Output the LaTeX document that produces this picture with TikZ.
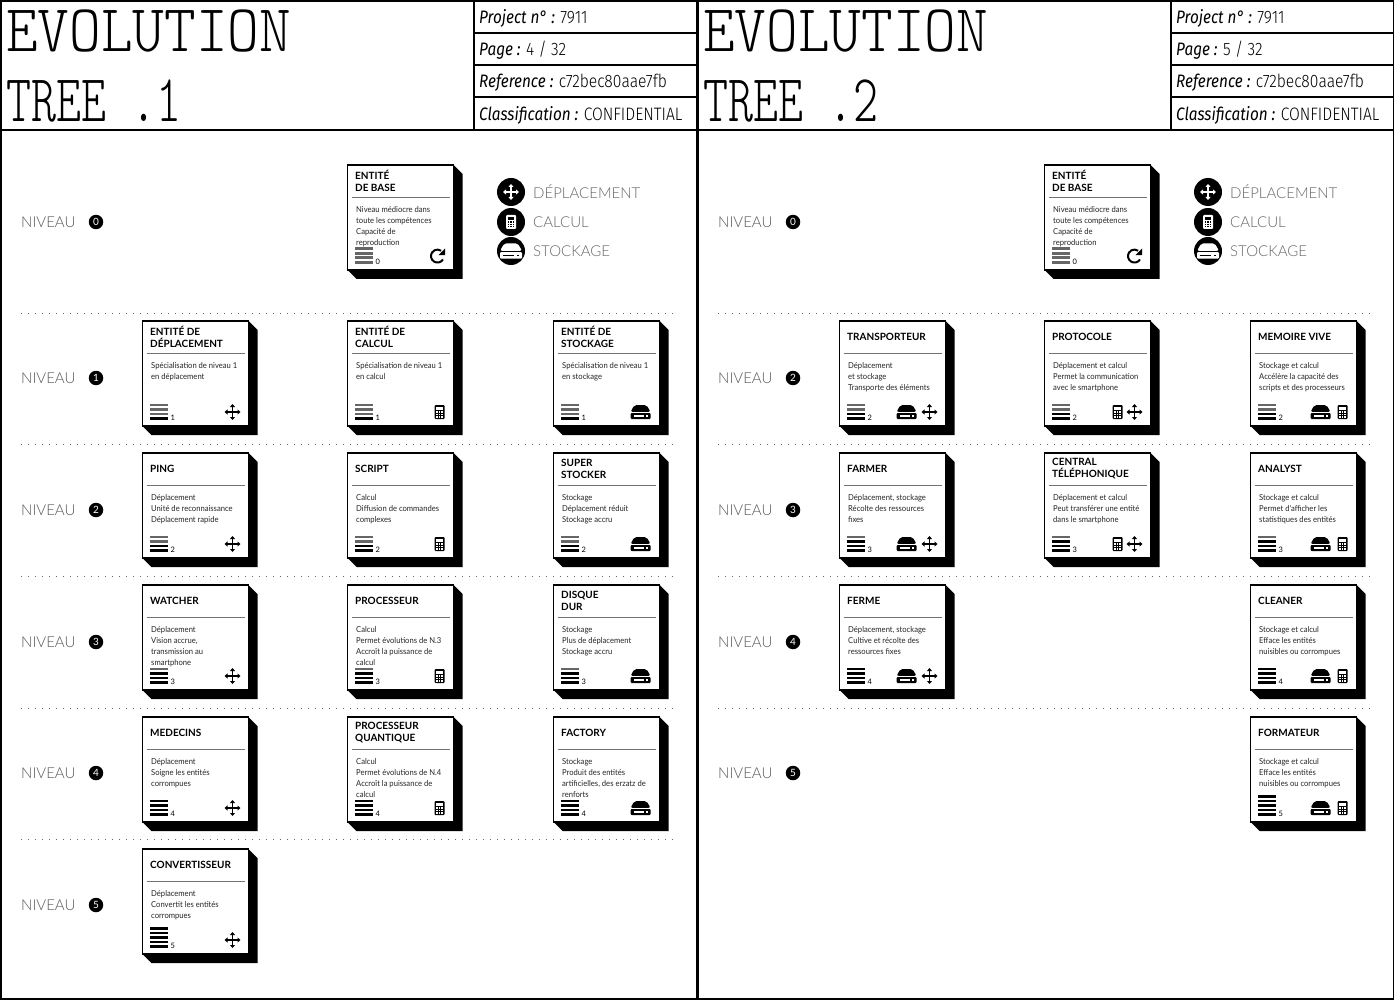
\documentclass[tikz,border=0pt]{standalone}
\usepackage{fontspec}
\setmainfont{Lato}
\newfontfamily\titlefont[FakeStretch=.9]{Latin Modern Mono Light}
\newfontfamily\headfont[FakeStretch=.85]{Fira Sans}
\newfontfamily\valfont[FakeStretch=.87]{Fira Sans Light}
\newfontfamily\lightfont{Lato Light}
\newfontfamily\bodyfont[FakeStretch=.93]{Lato}
\colorlet{iconfg}{black}
\colorlet{iconbg}{white}
\tikzset{
  movepic/.pic={
    \draw[iconfg,line width=1.2] (-6,0) -- (6,0) (0,-6) -- (0,6);
    \fill[iconfg] (-8,0) -- (-5,-2.6) -- (-5,2.6) -- cycle;
    \fill[iconfg] (8,0) -- (5,-2.6) -- (5,2.6) -- cycle;
    \fill[iconfg] (0,-8) -- (-2.6,-5) -- (2.6,-5) -- cycle;
    \fill[iconfg] (0,8) -- (-2.6,5) -- (2.6,5) -- cycle;
  },
  calcpic/.pic={
    \fill[iconfg,rounded corners=1] (-5,-7) rectangle (5,7);
    \fill[iconbg] (-3.4,-5.4) rectangle (3.4,-2.4);
    \foreach \i in {-2.6,0,2.6} \foreach \j in {0,2.4,4.8}
      \fill[iconbg] (\i-.8,\j-.7) rectangle (\i+.8,\j+.7);
  },
  hddpic/.pic={
    \fill[iconfg,rounded corners=2] (-10,-.2) -- (-6,-7) -- (6,-7) -- (10,-.2) -- cycle;
    \fill[iconfg,rounded corners=1] (-10,1) rectangle (10,7);
    \fill[iconbg] (-7,3.2) rectangle (3,4.6);
    \fill[iconbg] (5,3.2) rectangle (7.5,4.6);
  },
  reloadpic/.pic={
    \draw[iconfg,line width=2] (5.5,3.5) arc (32:305:6.5);
    \fill[iconfg] (7.5,-7.5) -- (7.5,-.8) -- (.8,-.8) -- cycle;
  }
}
% One card of the tree: name, x, y, title, text, level, icons
\newcommand{\cardbox}[7]{
  \begin{scope}[shift={(#2.5,#3)}]
    \fill (0,0) -- (106,0) -- (115,9) -- (115,114) -- (9,114) -- (0,105) -- cycle;
    \draw[cardframe] (0,0) rectangle (106,105);
    \node[cardtitle] (#1-title) at (7.5,16) {#4};
    \draw[cardrule] (4,32) -- (102,32);
    \node[cardtext] (#1-text) at (8.5,41.5) {#5};
    \pgfmathtruncatemacro{\nbars}{max(4,#6)}
    \foreach \i in {1,...,\nbars} {
      \ifnum\i>#6\def\barcol{black!60}\else\def\barcol{black}\fi
      \fill[\barcol] (7.5,{98.8-(\i-1)*4.5}) rectangle (25,{96-(\i-1)*4.5});
    }
    \node[cardlevel] (#1-level) at (28,99.5) {#6};
    #7
  \end{scope}
}
% The header of a sheet with its legend and base card: number, page
\newcommand{\sheethead}[2]{
  \draw[sheetline] (1,1) rectangle (697,999);
  \draw[sheetline] (1,130) -- (697,130);
  \draw[cellline] (474,1) -- (474,130);
  \draw[cellline] (474,33) -- (697,33) (474,65) -- (697,65) (474,97) -- (697,97);
  \node[sheettitle] (title-a) at (6,52) {EVOLUTION};
  \node[sheettitle] (title-b) at (6,122) {\scalebox{.79}[1]{TREE .#1}};
  \node[cellfield] (project) at (479,24) {\textit{Project n° :} {\valfont 7911}};
  \node[cellfield] (page) at (479,56) {\textit{Page :} {\valfont #2 / 32}};
  \node[cellfield] (reference) at (479,88) {\textit{Reference :} {\valfont c72bec80aae7fb}};
  \node[cellfield] (classification) at (479,121) {\textit{Classification :} {\valfont CONFIDENTIAL}};
  % Legend
  \begin{scope}
    \colorlet{iconfg}{white}
    \colorlet{iconbg}{black}
    \fill (511,192) circle (14) (511,222) circle (14) (511,251) circle (14);
    \pic at (511,192) {movepic};
    \pic at (511,222) {calcpic};
    \pic[scale=1.1] at (511,251) {hddpic};
  \end{scope}
  \node[legendtext] (leg-move) at (533,191.7) {DÉPLACEMENT};
  \node[legendtext] (leg-calc) at (533,221.7) {CALCUL};
  \node[legendtext] (leg-hdd) at (533,250.7) {STOCKAGE};
  \cardbox{base}{347}{165}{ENTITÉ\\DE BASE}{Niveau médiocre dans\\toute les compétences\\Capacité de\\reproduction}{0}{\pic at (90,91) {reloadpic};}
  \node[levellabel] (niv-0) at (21,222) {NIVEAU};
  \node[levelbadge] (num-0) at (96,222) {0};
}
\newcommand{\levelrow}[3]{
  \node[levellabel] (niv-#1) at (21,#2) {NIVEAU};
  \node[levelbadge] (num-#1) at (96,#2) {#3};
}
\begin{document}
\begin{tikzpicture}[
    x=1pt,y=-1pt,
    sheetline/.style={line width=2pt},
    cellline/.style={line width=1.2pt},
    sheettitle/.style={anchor=base west,inner sep=0pt,font=\titlefont\fontsize{67}{67}\selectfont},
    cellfield/.style={anchor=base west,inner sep=0pt,font=\headfont\fontsize{18}{18}\selectfont},
    legendtext/.style={anchor=west,inner sep=0pt,text=black!60,font=\lightfont\fontsize{15}{15}\selectfont},
    levellabel/.style={anchor=west,inner sep=0pt,text=black!65,font=\lightfont\fontsize{15}{15}\selectfont},
    levelbadge/.style={circle,fill=black,text=white,inner sep=0pt,minimum size=14.5pt,font=\fontsize{10}{10}\selectfont},
    dots/.style={line width=1pt,black!60,dash pattern=on 1pt off 6pt},
    cardframe/.style={fill=white,draw=black,line width=1.5pt},
    cardrule/.style={line width=.8pt,black!55},
    cardtitle/.style={anchor=west,align=left,inner sep=0pt,font=\bfseries\fontsize{10}{12}\selectfont},
    cardtext/.style={anchor=north west,align=left,inner sep=0pt,text=black!85,font=\bodyfont\fontsize{8.2}{11}\selectfont},
    cardlevel/.style={anchor=base west,inner sep=0pt,font=\fontsize{7.5}{8}\selectfont}
  ]
  \useasboundingbox (0,0) rectangle (1394,1000);
  % First sheet
  \sheethead{1}{4}
  \foreach \y in {313,444,576,708,839} \draw[dots] (21,\y) -- (674,\y);
  \levelrow{1}{378}{1}
  \levelrow{2}{510}{2}
  \levelrow{3}{642}{3}
  \levelrow{4}{773}{4}
  \levelrow{5}{905}{5}
  % Level 1
  \cardbox{depl}{142}{321}{ENTITÉ DE\\DÉPLACEMENT}{Spécialisation de niveau 1\\en déplacement}{1}{\pic at (90,91) {movepic};}
  \cardbox{calc}{347}{321}{ENTITÉ DE\\CALCUL}{Spécialisation de niveau 1\\en calcul}{1}{\pic at (92,91) {calcpic};}
  \cardbox{stock}{553}{321}{ENTITÉ DE\\STOCKAGE}{Spécialisation de niveau 1\\en stockage}{1}{\pic at (87,91) {hddpic};}
  % Level 2
  \cardbox{ping}{142}{453}{PING}{Déplacement\\Unité de reconnaissance\\Déplacement rapide}{2}{\pic at (90,91) {movepic};}
  \cardbox{script}{347}{453}{SCRIPT}{Calcul\\Diffusion de commandes\\complexes}{2}{\pic at (92,91) {calcpic};}
  \cardbox{super}{553}{453}{SUPER\\STOCKER}{Stockage\\Déplacement réduit\\Stockage accru}{2}{\pic at (87,91) {hddpic};}
  % Level 3
  \cardbox{watcher}{142}{585}{WATCHER}{Déplacement\\Vision accrue,\\transmission au\\smartphone}{3}{\pic at (90,91) {movepic};}
  \cardbox{proc}{347}{585}{PROCESSEUR}{Calcul\\Permet évolutions de N.3\\Accroît la puissance de\\calcul}{3}{\pic at (92,91) {calcpic};}
  \cardbox{disk}{553}{585}{DISQUE\\DUR}{Stockage\\Plus de déplacement\\Stockage accru}{3}{\pic at (87,91) {hddpic};}
  % Level 4
  \cardbox{medic}{142}{717}{MEDECINS}{Déplacement\\Soigne les entités\\corrompues}{4}{\pic at (90,91) {movepic};}
  \cardbox{quant}{347}{717}{PROCESSEUR\\QUANTIQUE}{Calcul\\Permet évolutions de N.4\\Accroît la puissance de\\calcul}{4}{\pic at (92,91) {calcpic};}
  \cardbox{factory}{553}{717}{FACTORY}{Stockage\\Produit des entités\\artificielles, des erzatz de\\renforts}{4}{\pic at (87,91) {hddpic};}
  % Level 5
  \cardbox{conv}{142}{849}{CONVERTISSEUR}{Déplacement\\Convertit les entités\\corrompues}{5}{\pic at (90,91) {movepic};}
  % Second sheet
  \begin{scope}[shift={(697,0)},name prefix=b-]
    \sheethead{2}{5}
    \foreach \y in {313,444,576,708} \draw[dots] (21,\y) -- (674,\y);
    \levelrow{1}{378}{2}
    \levelrow{2}{510}{3}
    \levelrow{3}{642}{4}
    \levelrow{4}{773}{5}
    \cardbox{trans}{142}{321}{TRANSPORTEUR}{Déplacement\\et stockage\\Transporte des éléments}{2}{\pic at (67,91) {hddpic}; \pic at (90,91) {movepic};}
    \cardbox{proto}{347}{321}{PROTOCOLE}{Déplacement et calcul\\Permet la communication\\avec le smartphone}{2}{\pic at (73,91) {calcpic}; \pic at (90,91) {movepic};}
    \cardbox{ram}{553}{321}{MEMOIRE VIVE}{Stockage et calcul\\Accélère la capacité des\\scripts et des processeurs}{2}{\pic at (70,91) {hddpic}; \pic at (92,91) {calcpic};}
    \cardbox{farmer}{142}{453}{FARMER}{Déplacement, stockage\\Récolte des ressources\\fixes}{3}{\pic at (67,91) {hddpic}; \pic at (90,91) {movepic};}
    \cardbox{central}{347}{453}{CENTRAL\\TÉLÉPHONIQUE}{Déplacement et calcul\\Peut transférer une entité\\dans le smartphone}{3}{\pic at (73,91) {calcpic}; \pic at (90,91) {movepic};}
    \cardbox{analyst}{553}{453}{ANALYST}{Stockage et calcul\\Permet d'afficher les\\statistiques des entités}{3}{\pic at (70,91) {hddpic}; \pic at (92,91) {calcpic};}
    \cardbox{ferme}{142}{585}{FERME}{Déplacement, stockage\\Cultive et récolte des\\ressources fixes}{4}{\pic at (67,91) {hddpic}; \pic at (90,91) {movepic};}
    \cardbox{cleaner}{553}{585}{CLEANER}{Stockage et calcul\\Efface les entités\\nuisibles ou corrompues}{4}{\pic at (70,91) {hddpic}; \pic at (92,91) {calcpic};}
    \cardbox{formateur}{553}{717}{FORMATEUR}{Stockage et calcul\\Efface les entités\\nuisibles ou corrompues}{5}{\pic at (70,91) {hddpic}; \pic at (92,91) {calcpic};}
  \end{scope}
\end{tikzpicture}
\end{document}
